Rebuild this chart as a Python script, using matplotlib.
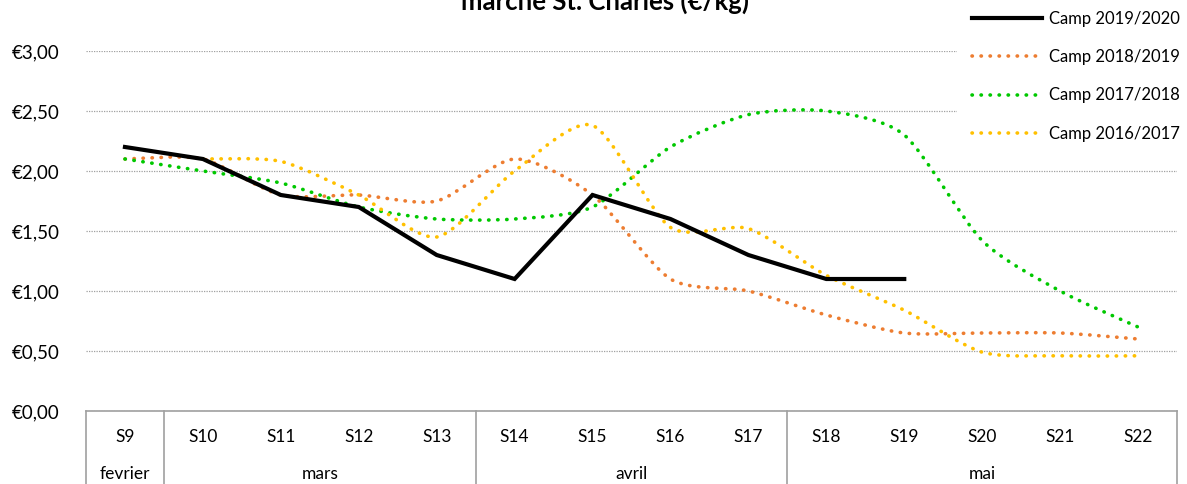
import numpy as np
import matplotlib
matplotlib.use("Agg")
import matplotlib.pyplot as plt
import matplotlib.transforms as mtransforms
from matplotlib.path import Path
from matplotlib.patches import PathPatch
from matplotlib.lines import Line2D

plt.rcParams['font.family'] = ['Lato', 'DejaVu Sans']

# données
semaines = ['S9', 'S10', 'S11', 'S12', 'S13', 'S14', 'S15', 'S16',
            'S17', 'S18', 'S19', 'S20', 'S21', 'S22']
mois = ['fevrier', 'mars', 'avril', 'mai']
mois_nb = [1, 4, 4, 5]

nan = np.nan
camp_2019_2020 = [2.20, 2.10, 1.80, 1.70, 1.30, 1.10, 1.80, 1.60, 1.30, 1.10, 1.10, nan, nan, nan]
camp_2018_2019 = [2.10, 2.10, 1.80, 1.80, 1.75, 2.10, 1.80, 1.10, 1.00, 0.80, 0.65, 0.65, 0.65, 0.60]
camp_2017_2018 = [2.10, 2.00, 1.90, 1.70, 1.60, 1.60, 1.70, 2.20, 2.47, 2.50, 2.30, 1.42, 1.00, 0.70]
camp_2016_2017 = [nan, 2.10, 2.08, 1.80, 1.45, 2.00, 2.38, 1.53, 1.52, 1.13, 0.84, 0.49, 0.46, 0.46]

series = [
    ('Camp 2019/2020', camp_2019_2020, 'black', False),
    ('Camp 2018/2019', camp_2018_2019, '#ED7D31', True),
    ('Camp 2017/2018', camp_2017_2018, '#00C800', True),
    ('Camp 2016/2017', camp_2016_2017, '#FFC000', True),
]

pointille = (0, (0.1, 2.4))


def courbe_lisse(x, y, k=8):
    # courbe lissée façon Excel (catmull-rom -> bezier, tension réduite)
    pts = np.column_stack([x, y])
    n = len(pts)
    verts = [pts[0]]
    codes = [Path.MOVETO]
    for i in range(n - 1):
        p0 = pts[max(i - 1, 0)]
        p1 = pts[i]
        p2 = pts[i + 1]
        p3 = pts[min(i + 2, n - 1)]
        verts += [p1 + (p2 - p0) / k, p2 - (p3 - p1) / k, p2]
        codes += [Path.CURVE4] * 3
    return Path(verts, codes)


W, H = 1187, 484
fig = plt.figure(figsize=(W / 100, H / 100), dpi=100)
ax = fig.add_axes([86 / W, 73 / H, 1091 / W, 360 / H])

x = np.arange(len(semaines))
handles = []
for nom, vals, couleur, lisse in series:
    v = np.array(vals, dtype=float)
    ok = ~np.isnan(v)
    if lisse:
        p = PathPatch(courbe_lisse(x[ok], v[ok]), fill=False, edgecolor=couleur,
                      lw=2.6, linestyle=pointille, capstyle='round', zorder=3)
        ax.add_patch(p)
        handles.append(Line2D([], [], color=couleur, lw=2.6, linestyle=pointille,
                              dash_capstyle='round'))
    else:
        ln, = ax.plot(x[ok], v[ok], color=couleur, lw=3, zorder=4,
                      solid_joinstyle='miter')
        handles.append(ln)

ax.set_xlim(-0.5, len(semaines) - 0.5)
ax.set_ylim(0, 3)
ax.set_yticks(np.arange(0, 3.01, 0.5))
ax.set_yticklabels(['€' + f'{t:.2f}'.replace('.', ',') for t in np.arange(0, 3.01, 0.5)],
                   fontsize=13.5)
ax.tick_params(axis='y', length=0, pad=19)
ax.set_xticks([])
ax.yaxis.grid(True, linestyle=(0, (1, 1)), color='#a0a0a0', lw=0.9)
ax.set_axisbelow(True)
for s in ['left', 'right', 'top']:
    ax.spines[s].set_visible(False)
ax.spines['bottom'].set_color('#a0a0a0')
ax.spines['bottom'].set_linewidth(1.2)

# axe des catégories sur deux niveaux
trans = mtransforms.blended_transform_factory(ax.transData, ax.transAxes)
for i, s in enumerate(semaines):
    ax.text(i, -26 / 360, s, transform=trans, ha='center', va='center', fontsize=12.5)
bornes = np.concatenate([[0], np.cumsum(mois_nb)]) - 0.5
for b in bornes:
    ax.plot([b, b], [0, -0.25], transform=trans, color='#a0a0a0', lw=1.2, clip_on=False)
for m, a, b in zip(mois, bornes[:-1], bornes[1:]):
    ax.text((a + b) / 2, -63 / 360, m, transform=trans, ha='center', va='center', fontsize=12.5)

fig.text(605 / W, 1 - 10 / H, 'marché St. Charles (€/kg)', ha='center', va='baseline',
         fontsize=18.5, fontweight='bold')

fig.legend(handles, [s[0] for s in series], loc='upper left',
           bbox_to_anchor=(957 / W, 1 + 4 / H), fontsize=12, frameon=True,
           facecolor='white', edgecolor='none', framealpha=1, fancybox=False,
           handlelength=4.2, handletextpad=0.4, labelspacing=1.33,
           borderpad=0.9, borderaxespad=0)

fig.savefig('out.png', dpi=100)
